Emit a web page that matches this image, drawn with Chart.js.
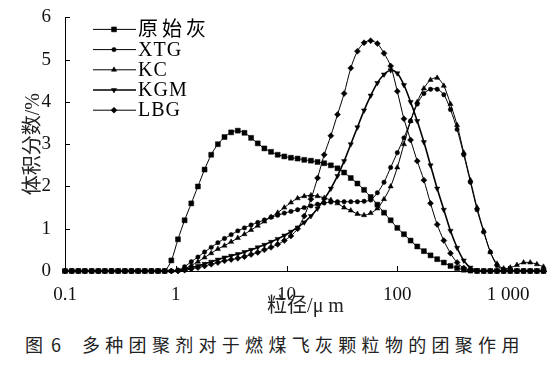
<!DOCTYPE html>
<html lang="zh">
<head>
<meta charset="UTF-8">
<title>多种团聚剂对于燃煤飞灰颗粒物的团聚作用</title>
<script src="https://cdn.jsdelivr.net/npm/chart.js@4"></script>
<style>
body {
    margin: 0;
    background: #fff;
}
.wrap {
    position: relative;
    width: 554px;
    height: 374px;
}
.chart-box {
    position: absolute;
    left: 0;
    top: 0;
    width: 554px;
    height: 325px;
}
.caption {
    position: absolute;
    top: 331px;
    left: 0;
    width: 554px;
    font-family: "Noto Sans CJK SC", sans-serif;
    font-size: 18px;
    color: #222;
    white-space: nowrap;
}
.caption span {
    position: absolute;
}
.font-warm {
    position: absolute;
    left: -999px;
    font-family: "Liberation Serif";
}
</style>
</head>
<body>
<div class="wrap">
    <div class="chart-box"><canvas id="psd"></canvas></div>
    <div class="caption">
        <span style="left:25px; letter-spacing:8px">图6</span>
        <span style="left:82px; letter-spacing:5.3px">多种团聚剂对于燃煤飞灰颗粒物的团聚作用</span>
    </div>
    <span class="font-warm">0123456789 XTGKCMLB</span>
</div>

<script>
// particle size grid (um), log spaced
const sizes = [0.1, 0.115, 0.132, 0.151, 0.174, 0.2, 0.229, 0.263, 0.302, 0.347,
    0.398, 0.457, 0.525, 0.603, 0.692, 0.794, 0.912, 1.047, 1.202, 1.38,
    1.585, 1.82, 2.089, 2.399, 2.754, 3.162, 3.631, 4.169, 4.786, 5.495,
    6.31, 7.244, 8.318, 9.55, 10.96, 12.59, 14.45, 16.6, 19.05, 21.88,
    25.12, 28.84, 33.11, 38.02, 43.65, 50.12, 57.54, 66.07, 75.86, 87.1,
    100, 114.8, 131.8, 151.4, 173.8, 199.5, 229.1, 263, 302, 346.7,
    398.1, 457.1, 524.8, 602.6, 691.8, 794.3, 912, 1047, 1202, 1380,
    1585, 1820, 2089];

const xTickValues = [0.1, 1, 10, 100, 1000];
const xTickLabels = ['0.1', '1', '10', '100', '1 000'];
const yTickValues = [0, 1, 2, 3, 4, 5, 6];

const seriesNames = ['原始灰', 'XTG', 'KC', 'KGM', 'LBG'];

// volume fraction (%)
const rawAsh = [0, 0, 0, 0, 0, 0, 0, 0, 0, 0, 0, 0, 0, 0, 0, 0,
    0.25, 0.75, 1.2, 1.6, 2.0, 2.4, 2.75, 3.0, 3.17, 3.28,
    3.32, 3.27, 3.15, 3.02, 2.9, 2.82, 2.75, 2.71, 2.68, 2.66,
    2.63, 2.61, 2.58, 2.55, 2.5, 2.43, 2.33, 2.2, 2.07, 1.92,
    1.75, 1.57, 1.38, 1.2, 1.02, 0.87, 0.72, 0.58, 0.47, 0.37,
    0.28, 0.2, 0.12, 0.07, 0.03, 0.01,
    0, 0, 0, 0, 0, 0, 0, 0, 0, 0, 0];

const xtg = [0, 0, 0, 0, 0, 0, 0, 0, 0, 0, 0, 0, 0, 0, 0, 0, 0,
    0.02, 0.1, 0.22, 0.33, 0.45, 0.56, 0.67, 0.77, 0.86, 0.95,
    1.02, 1.09, 1.15, 1.21, 1.27, 1.32, 1.37, 1.41, 1.45, 1.5,
    1.54, 1.58, 1.61, 1.63, 1.64, 1.64, 1.64, 1.64, 1.65, 1.68,
    1.85, 2.1, 2.45, 2.8, 3.15, 3.55, 3.95, 4.2, 4.3, 4.3,
    4.17, 3.82, 3.35, 2.75, 2.1, 1.45, 0.92, 0.45, 0.13, 0.04, 0.01,
    0, 0, 0, 0, 0];

const kc = [0, 0, 0, 0, 0, 0, 0, 0, 0, 0, 0, 0, 0, 0, 0, 0, 0,
    0.01, 0.05, 0.13, 0.22, 0.32, 0.42, 0.52, 0.6, 0.69, 0.78,
    0.87, 0.97, 1.07, 1.17, 1.28, 1.38, 1.5, 1.62, 1.72, 1.77,
    1.79, 1.77, 1.73, 1.68, 1.6, 1.5, 1.43, 1.35, 1.32, 1.37,
    1.48, 1.7, 2.0, 2.45, 3.0, 3.55, 4.0, 4.32, 4.52, 4.57,
    4.38, 3.95, 3.45, 2.8, 2.15, 1.5, 0.95, 0.45, 0.17, 0.06,
    0.08, 0.14, 0.2, 0.2, 0.16, 0.1];

const kgm = [0, 0, 0, 0, 0, 0, 0, 0, 0, 0, 0, 0, 0, 0, 0, 0, 0,
    0.01, 0.04, 0.08, 0.12, 0.17, 0.22, 0.27, 0.32, 0.36, 0.4,
    0.45, 0.5, 0.56, 0.62, 0.69, 0.76, 0.84, 0.93, 1.03, 1.15,
    1.3, 1.48, 1.7, 1.95, 2.25, 2.6, 3.0, 3.4, 3.8, 4.15,
    4.45, 4.65, 4.75, 4.68, 4.4, 4.0, 3.55, 3.05, 2.5, 1.95,
    1.45, 0.95, 0.55, 0.25, 0.08, 0.02,
    0, 0, 0, 0, 0, 0, 0, 0, 0, 0];

const lbg = [0, 0, 0, 0, 0, 0, 0, 0, 0, 0, 0, 0, 0, 0, 0, 0, 0, 0,
    0.02, 0.05, 0.08, 0.12, 0.16, 0.2, 0.24, 0.27, 0.3,
    0.34, 0.39, 0.44, 0.5, 0.56, 0.63, 0.72, 0.83, 1.0, 1.3,
    1.7, 2.2, 2.75, 3.2, 3.7, 4.2, 4.8, 5.2, 5.4, 5.45,
    5.38, 5.15, 4.85, 4.25, 3.6, 3.1, 2.6, 2.15, 1.6, 1.1,
    0.72, 0.42, 0.2, 0.07, 0.02,
    0, 0, 0, 0, 0, 0, 0, 0, 0, 0, 0];

const seriesValues = [rawAsh, xtg, kc, kgm, lbg];

const serifFont = "'Liberation Serif', 'Times New Roman', 'Noto Sans CJK SC', serif";

const pointStyles = ['rect', 'circle', 'triangle', 'triangle', 'rectRot'];
const pointRotations = [0, 0, 0, 180, 0];
const pointSizes = [3.5, 2.2, 3, 3, 3];
const lineWidths = [1, 1, 1, 1.6, 1];

const datasets = seriesNames.map((name, k) => ({
    label: name,
    data: sizes.map((s, i) => ({ x: s, y: seriesValues[k][i] })),
    borderColor: '#000',
    backgroundColor: '#000',
    borderWidth: lineWidths[k],
    pointStyle: pointStyles[k],
    pointRotation: pointRotations[k],
    pointRadius: pointSizes[k],
    pointBorderWidth: 0.5,
    tension: 0.3,
    clip: false
}));

// legend drawn inside the plot, line sample with marker
const insideLegend = {
    id: 'insideLegend',
    afterDraw(chart) {
        const ctx = chart.ctx;
        const x0 = chart.chartArea.left + 28;
        chart.data.datasets.forEach((ds, k) => {
            const y = chart.chartArea.top + 12 + 20.2 * k;
            ctx.save();
            ctx.strokeStyle = '#000';
            ctx.fillStyle = '#000';
            ctx.lineWidth = ds.borderWidth;
            ctx.beginPath();
            ctx.moveTo(x0, y);
            ctx.lineTo(x0 + 43, y);
            ctx.stroke();
            ctx.lineWidth = 0.5;
            Chart.helpers.drawPoint(ctx, {
                pointStyle: ds.pointStyle,
                rotation: ds.pointRotation,
                radius: ds.pointRadius,
                borderWidth: 0.5
            }, x0 + 21, y);
            ctx.font = '20px ' + serifFont;
            ctx.letterSpacing = /[A-Z]/.test(ds.label) ? '1px' : '4px';
            ctx.textBaseline = 'middle';
            ctx.textAlign = 'left';
            ctx.fillText(ds.label, x0 + 45, y + 1);
            ctx.restore();
        });
    }
};

// tick marks pointing into the plot
const inwardTicks = {
    id: 'inwardTicks',
    afterDatasetsDraw(chart) {
        const { ctx, chartArea, scales } = chart;
        ctx.save();
        ctx.strokeStyle = '#000';
        ctx.lineWidth = 1;
        ctx.beginPath();
        yTickValues.forEach(v => {
            const py = Math.round(scales.y.getPixelForValue(v)) + 0.5;
            ctx.moveTo(chartArea.left, py);
            ctx.lineTo(chartArea.left + 5, py);
        });
        xTickValues.forEach(v => {
            const px = Math.round(scales.x.getPixelForValue(v)) + 0.5;
            ctx.moveTo(px, chartArea.bottom);
            ctx.lineTo(px, chartArea.bottom - 5);
        });
        ctx.stroke();
        ctx.restore();
    }
};

function drawChart() {
    new Chart(document.getElementById('psd'), {
        type: 'line',
        data: { datasets: datasets },
        options: {
            responsive: true,
            maintainAspectRatio: false,
            devicePixelRatio: 1,
            animation: false,
            events: [],
            layout: { padding: { top: 17, right: 8, left: 0, bottom: 0 } },
            plugins: {
                legend: { display: false },
                tooltip: { enabled: false }
            },
            scales: {
                x: {
                    type: 'logarithmic',
                    min: 0.1,
                    max: 2200,
                    afterBuildTicks: s => { s.ticks = xTickValues.map(v => ({ value: v })); },
                    afterFit: s => { s.height = 54; },
                    grid: { display: false },
                    border: { display: true, color: '#000', width: 1 },
                    ticks: {
                        autoSkip: false,
                        maxRotation: 0,
                        padding: 5,
                        color: '#111',
                        font: { family: serifFont, size: 19 },
                        callback: v => xTickLabels[xTickValues.indexOf(v)]
                    },
                    title: {
                        display: true,
                        text: '粒径/μ m',
                        color: '#222',
                        font: { family: serifFont, size: 20, lineHeight: 1.2 },
                        padding: { top: 0, bottom: 6 }
                    }
                },
                y: {
                    type: 'linear',
                    min: 0,
                    max: 6,
                    afterFit: s => { s.width = 65; },
                    grid: { display: false },
                    border: { display: true, color: '#000', width: 1 },
                    ticks: {
                        stepSize: 1,
                        padding: 6,
                        color: '#111',
                        font: { family: serifFont, size: 19 }
                    },
                    title: {
                        display: true,
                        text: '体积分数/%',
                        color: '#222',
                        font: { family: serifFont, size: 20, lineHeight: 1.2 },
                        padding: { top: 22, bottom: 0 }
                    }
                }
            }
        },
        plugins: [insideLegend, inwardTicks]
    });
}

if (document.fonts && document.fonts.load) {
    document.fonts.load("19px 'Liberation Serif'").then(drawChart, drawChart);
} else {
    drawChart();
}
</script>
</body>
</html>
